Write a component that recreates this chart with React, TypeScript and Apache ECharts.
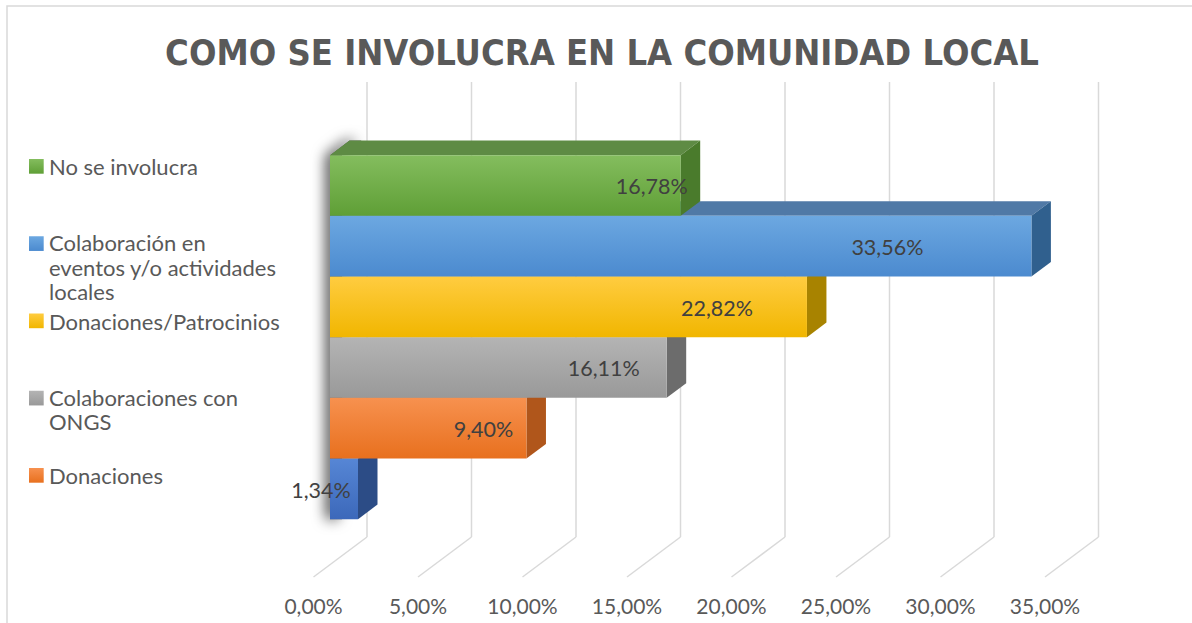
import React, { useEffect, useRef } from 'react';
import * as echarts from 'echarts';

// ---------- data ----------
const TITLE = 'COMO SE INVOLUCRA EN LA COMUNIDAD LOCAL';
const categories = [
  'No se involucra',
  'Colaboración en eventos y/o actividades locales',
  'Donaciones/Patrocinios',
  'Colaboraciones con ONGS',
  'Donaciones',
  '',
];
const values = [16.78, 33.56, 22.82, 16.11, 9.4, 1.34];
const tickValues = [0, 5, 10, 15, 20, 25, 30, 35];
// legend shows the first five series (wrapped like the original)
const legendLabels = [
  'No se involucra',
  'Colaboración en\neventos y/o actividades\nlocales',
  'Donaciones/Patrocinios',
  'Colaboraciones con\nONGS',
  'Donaciones',
];

// ---------- styles / layout ----------
const FONT = "Lato, 'Open Sans', sans-serif";
const TITLE_FONT = "'Liberation Sans Narrow', 'DejaVu Sans Condensed', Lato, sans-serif";
const barStyles = [
  { light: '#84bd5e', base: '#5f9f36', top: '#5e8b44', side: '#4a7b2c' },
  { light: '#6ca8e1', base: '#4b8acf', top: '#5079a6', side: '#30608e' },
  { light: '#ffcc40', base: '#f1b600', top: '#c59a10', side: '#a88300' },
  { light: '#b4b4b4', base: '#999999', top: '#878787', side: '#6c6c6c' },
  { light: '#f7914f', base: '#e8701e', top: '#c0662a', side: '#b0561b' },
  { light: '#5686d5', base: '#3c68ba', top: '#3a5f9f', side: '#2c4c86' },
];
const labelCenterInset = [29, 144, 90, 63, 43, 37];
const DEPTH_X = 53.5;
const DEPTH_Y = -40;
const BAR_FRONT = 16.5 / 53.5;
const BAR_BACK = 36 / 53.5;
const GAP_WIDTH = 1.5;
const GRID_COLOR = '#d9d9d9';
const LEGEND_FIRST = 166.5;
const LEGEND_STEP = 77.25;
const LEGEND_LINE_MULTI = 24.5;
const LEGEND_LINE_SINGLE = 20;
const LEGEND_MULTI_SHIFT = -1;

const fmt = (v: number) => v.toFixed(2).replace('.', ',') + '%';

export default function App() {
  const ref = useRef<HTMLDivElement>(null);

  useEffect(() => {
    if (!ref.current) return;
    const chart = echarts.init(ref.current, undefined, { renderer: 'svg' });
    const n = values.length;

    const barGeom = (api: any, idx: number, v: number) => {
      const [xs, yc] = api.coord([0, 0]);
      const [xe] = api.coord([v, 0]);
      const band = api.size([0, 1])[1];
      const w = band / (n + GAP_WIDTH);
      const fx = DEPTH_X * BAR_FRONT;
      const fy = DEPTH_Y * BAR_FRONT;
      const bdx = DEPTH_X * (BAR_BACK - BAR_FRONT);
      const bdy = DEPTH_Y * (BAR_BACK - BAR_FRONT);
      const x0 = xs + fx;
      const x1 = xe + fx;
      const top = yc + fy - (n / 2) * w + idx * w;
      return { x0, x1, top, bot: top + w, w, bdx, bdy };
    };

    const floorSeries = {
      type: 'custom',
      z: 1,
      silent: true,
      encode: { x: 0, y: 1 },
      data: tickValues.map((t) => [t, 0]),
      renderItem: (params: any, api: any) => {
        const t = api.value(0);
        const [x, yc] = api.coord([t, 0]);
        const band = api.size([0, 1])[1];
        const yb = yc + band / 2;
        const yt = yc - band / 2;
        return {
          type: 'group',
          children: [
            {
              type: 'line',
              shape: { x1: x, y1: yb, x2: x + DEPTH_X, y2: yb + DEPTH_Y },
              style: { stroke: GRID_COLOR, lineWidth: 1.5 },
            },
            {
              type: 'line',
              shape: { x1: x + DEPTH_X, y1: yb + DEPTH_Y, x2: x + DEPTH_X, y2: yt + DEPTH_Y },
              style: { stroke: GRID_COLOR, lineWidth: 1.5 },
            },
          ],
        };
      },
    };

    const shadowSeries = {
      type: 'custom',
      z: 2,
      silent: true,
      encode: { x: 0, y: 1 },
      data: [[0, 0]],
      renderItem: (params: any, api: any) => {
        const g0 = barGeom(api, 0, 0);
        const gl = barGeom(api, n - 1, 0);
        const x0 = g0.x0;
        const top = g0.top;
        const bot = gl.bot;
        return {
          type: 'polygon',
          shape: {
            points: [
              [x0, bot],
              [x0, top],
              [x0 + g0.bdx, top + g0.bdy],
              [x0 + g0.bdx + 12, top + g0.bdy],
              [x0 + 12, top],
              [x0 + 12, bot],
            ],
          },
          style: {
            fill: '#606060',
            shadowBlur: 14,
            shadowOffsetX: -4,
            shadowOffsetY: 0,
            shadowColor: 'rgba(0,0,0,0.75)',
          },
        };
      },
    };

    const barSeries = {
      type: 'custom',
      z: 3,
      encode: { x: 0, y: 1 },
      data: values.map((v, i) => [v, 0, i]).reverse(),
      renderItem: (params: any, api: any) => {
        const v = api.value(0);
        const idx = api.value(2);
        const s = barStyles[idx];
        const g = barGeom(api, idx, v);
        const { x0, x1, top, bot, bdx, bdy } = g;
        return {
          type: 'group',
          children: [
            {
              type: 'polygon',
              shape: {
                points: [
                  [x0, top],
                  [x1, top],
                  [x1 + bdx, top + bdy],
                  [x0 + bdx, top + bdy],
                ],
              },
              style: { fill: s.top },
            },
            {
              type: 'polygon',
              shape: {
                points: [
                  [x1, top],
                  [x1 + bdx, top + bdy],
                  [x1 + bdx, bot + bdy],
                  [x1, bot],
                ],
              },
              style: { fill: s.side },
            },
            {
              type: 'rect',
              shape: { x: x0, y: top, width: x1 - x0, height: bot - top },
              style: {
                fill: {
                  type: 'linear',
                  x: 0,
                  y: 0,
                  x2: 0,
                  y2: 1,
                  colorStops: [
                    { offset: 0, color: s.light },
                    { offset: 1, color: s.base },
                  ],
                },
              },
            },
            {
              type: 'text',
              x: x1 - labelCenterInset[idx],
              y: (top + bot) / 2 + 1,
              style: {
                text: fmt(v),
                fill: '#404040',
                fontSize: 21.5,
                fontFamily: FONT,
                align: 'center',
                verticalAlign: 'middle',
              },
            },
          ],
        };
      },
    };

    const legendGraphics: any[] = [];
    legendLabels.forEach((label, i) => {
      const cy = LEGEND_FIRST + i * LEGEND_STEP;
      const s = barStyles[i];
      const multi = label.indexOf('\n') >= 0;
      const lh = multi ? LEGEND_LINE_MULTI : LEGEND_LINE_SINGLE;
      const ty = cy + (multi ? LEGEND_MULTI_SHIFT : 0);
      legendGraphics.push({
        type: 'rect',
        silent: true,
        shape: { x: 29, y: cy - 7.5, width: 14.7, height: 14.7 },
        style: {
          fill: {
            type: 'linear',
            x: 0,
            y: 0,
            x2: 0,
            y2: 1,
            colorStops: [
              { offset: 0, color: s.light },
              { offset: 1, color: s.base },
            ],
          },
        },
      });
      legendGraphics.push({
        type: 'text',
        silent: true,
        x: 49,
        y: ty - lh / 2,
        style: {
          text: label,
          fill: '#595959',
          fontSize: 22,
          fontFamily: FONT,
          lineHeight: lh,
          align: 'left',
          verticalAlign: 'top',
        },
      });
    });

    const option: any = {
      animation: false,
      backgroundColor: '#ffffff',
      title: {
        text: TITLE,
        left: 602,
        top: 34,
        textAlign: 'center',
        padding: 0,
        textStyle: {
          fontFamily: TITLE_FONT,
          fontWeight: 'bold',
          fontSize: 36,
          color: '#595959',
        },
      },
      grid: {
        left: 313.5,
        right: 147,
        top: 122,
        bottom: 46,
        containLabel: false,
        outerBoundsMode: 'none',
      },
      xAxis: {
        type: 'value',
        min: 0,
        max: 35,
        interval: 5,
        axisLine: { show: false },
        axisTick: { show: false },
        splitLine: { show: false },
        axisLabel: {
          formatter: (v: number) => fmt(v),
          color: '#595959',
          fontSize: 21,
          fontFamily: FONT,
          margin: 18,
        },
      },
      yAxis: {
        type: 'category',
        data: ['grupo'],
        show: false,
      },
      series: [floorSeries, shadowSeries, barSeries],
      graphic: [
        {
          type: 'rect',
          silent: true,
          z: -10,
          shape: { x: 7, y: 6, width: 1220, height: 700 },
          style: { fill: 'none', stroke: GRID_COLOR, lineWidth: 1.5 },
        },
        ...legendGraphics,
      ],
    };

    chart.setOption(option);
    return () => chart.dispose();
  }, []);

  return (
    <div
      ref={ref}
      style={{ position: 'fixed', left: 0, top: 0, width: 1192, height: 623 }}
    />
  );
}
